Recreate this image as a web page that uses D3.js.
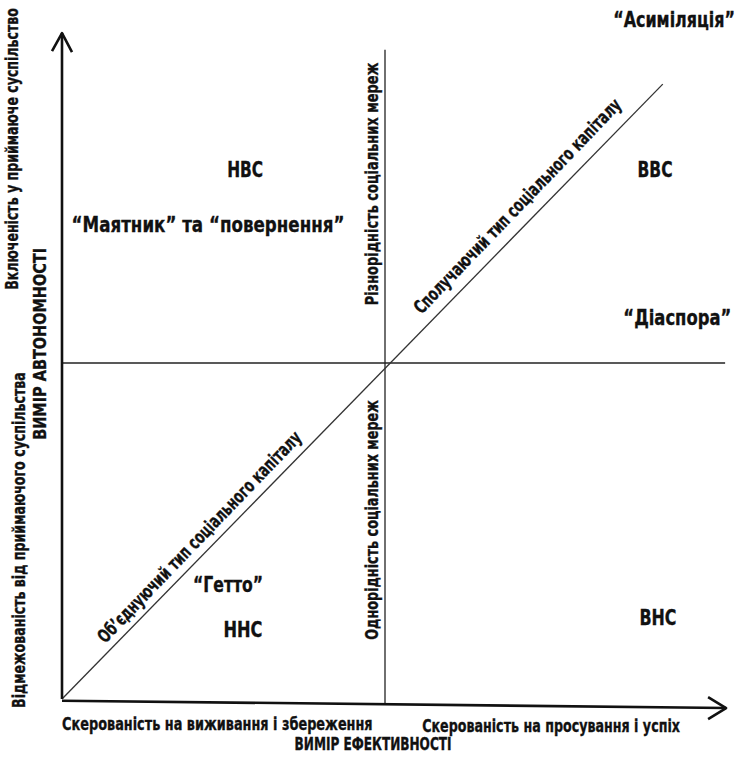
<!DOCTYPE html>
<html>
<head>
<meta charset="utf-8">
<script src="https://cdn.jsdelivr.net/npm/d3@7"></script>
<style>
  html, body { margin: 0; padding: 0; background: #fff; }
  svg { display: block; }
  text { font-family: "Liberation Sans Narrow", "DejaVu Sans Condensed", "Roboto Condensed", "Open Sans", sans-serif; font-weight: bold; fill: #111; stroke: #111; stroke-width: 0.35; font-stretch: condensed; }
</style>
</head>
<body>
<svg id="chart" width="743" height="759"></svg>
<script>
// ---------------- data ----------------
const quadrantCodes   = ["НВС", "ВВС", "ННС", "ВНС"];
const strategies      = ["“Маятник” та “повернення”", "“Асиміляція”", "“Діаспора”", "“Гетто”"];
const xAxisLabels     = ["Скерованість на виживання і збереження", "Скерованість на просування і успіх"];
const xAxisTitle      = "ВИМІР ЕФЕКТИВНОСТІ";
const yAxisLabels     = ["Включеність у приймаюче суспільство", "Відмежованість від приймаючого суспільства"];
const yAxisTitle      = "ВИМІР АВТОНОМНОСТІ";
const networkLabels   = ["Різнорідність соціальних мереж", "Однорідність соціальних мереж"];
const capitalLabels   = ["Сполучаючий тип соціального капіталу", "Об’єднуючий тип соціального капіталу"];
// conceptual extents of the two dimensions (low .. high)
const effectDomain    = [-1, 1];
const autonomyDomain  = [-1, 1];

// ---------------- scales ----------------
const svg = d3.select("#chart");
const x = d3.scaleLinear().domain(effectDomain).range([62, 708]);
const y = d3.scaleLinear().domain(autonomyDomain).range([699, 27]);

// ---------------- lines ----------------
const line = d3.line().x(d => x(d[0])).y(d => y(d[1]));

// inner dividing lines
svg.append("path").attr("d", line([[0, 0.932], [0, -1.018]]))
  .attr("stroke", "#222").attr("stroke-width", 1.3).attr("fill", "none");
svg.append("path").attr("d", line([[-1, 0], [1.053, 0]]))
  .attr("stroke", "#222").attr("stroke-width", 1.3).attr("fill", "none");
// diagonal
svg.append("path").attr("d", line([[-1, -1], [0.86, 0.83]]))
  .attr("stroke", "#333").attr("stroke-width", 1.3).attr("fill", "none");

// axes
svg.append("path").attr("d", line([[-1, -1], [-1, 0.982]]))
  .attr("stroke", "#111").attr("stroke-width", 2.6).attr("fill", "none");
svg.append("path").attr("d", line([[-1, -1.005], [1.056, -1.027]]))
  .attr("stroke", "#111").attr("stroke-width", 2.6).attr("fill", "none");

// arrowheads (open chevrons)
const yTip = [x(-1), y(0.982)];
svg.append("path")
  .attr("d", `M${yTip[0] - 10},${yTip[1] + 18} L${yTip[0]},${yTip[1]} L${yTip[0] + 10},${yTip[1] + 19}`)
  .attr("stroke", "#111").attr("stroke-width", 2.6).attr("fill", "none").attr("stroke-linejoin", "round");
const xTip = [x(1.056), y(-1.027)];
svg.append("path")
  .attr("d", `M${xTip[0] - 18},${xTip[1] - 11} L${xTip[0]},${xTip[1]} L${xTip[0] - 18},${xTip[1] + 11}`)
  .attr("stroke", "#111").attr("stroke-width", 2.6).attr("fill", "none").attr("stroke-linejoin", "round");

// ---------------- texts ----------------
// Draw text centred at (px,py) (baseline), horizontally squeezed to a target width.
function label(txt, px, py, size, len, rot) {
  const t = svg.append("text")
    .attr("text-anchor", "middle")
    .attr("font-size", size)
    .text(txt);
  const natural = t.node().getComputedTextLength() || len;
  const sx = len / natural;
  t.attr("transform", `translate(${px},${py}) rotate(${rot || 0}) scale(${sx},1)`);
  return t;
}

// quadrant codes
const codePos = [[-0.433, 0.554], [0.836, 0.554], [-0.44, -0.815], [0.845, -0.78]];
const codeLen = [36, 35, 39, 37];
quadrantCodes.forEach((c, i) => label(c, x(codePos[i][0]), y(codePos[i][1]), 22, codeLen[i]));

// strategies
const stratPos = [[-0.548, 0.39], [0.895, 1.0], [0.905, 0.113], [-0.486, -0.682]];
const stratLen = [273, 122, 108, 70];
strategies.forEach((s, i) => label(s, x(stratPos[i][0]), y(stratPos[i][1]), 22, stratLen[i]));

// x-axis labels
label(xAxisLabels[0], x(-0.519), y(-1.092), 18.5, 311);
label(xAxisLabels[1], x(0.514), y(-1.098), 18.5, 258);
label(xAxisTitle, x(-0.037), y(-1.152), 17.5, 157);

// y-axis labels (rotated)
label(yAxisLabels[0], x(-1.136), y(0.637), 18.5, 282, -90);
label(yAxisLabels[1], x(-1.115), y(-0.527), 18.5, 336, -90);
label(yAxisTitle, x(-1.05), y(0.057), 17.5, 192, -90);

// network labels (rotated)
label(networkLabels[0], x(-0.022), y(0.533), 18.5, 243, -90);
label(networkLabels[1], x(-0.022), y(-0.467), 18.5, 240, -90);

// capital labels along the diagonal
const p0 = [x(-1), y(-1)], p1 = [x(1), y(1)];
const ang = Math.atan2(p1[1] - p0[1], p1[0] - p0[0]);
const dir = [Math.cos(ang), Math.sin(ang)];
const up = [dir[1], -dir[0]];
const capDist = [671, 212], capLen = [290, 285], capOff = 7;
capitalLabels.forEach((c, i) => {
  const cx = p0[0] + dir[0] * capDist[i] + up[0] * capOff;
  const cy = p0[1] + dir[1] * capDist[i] + up[1] * capOff;
  label(c, cx, cy, 18.5, capLen[i], ang * 180 / Math.PI);
});
</script>
</body>
</html>
